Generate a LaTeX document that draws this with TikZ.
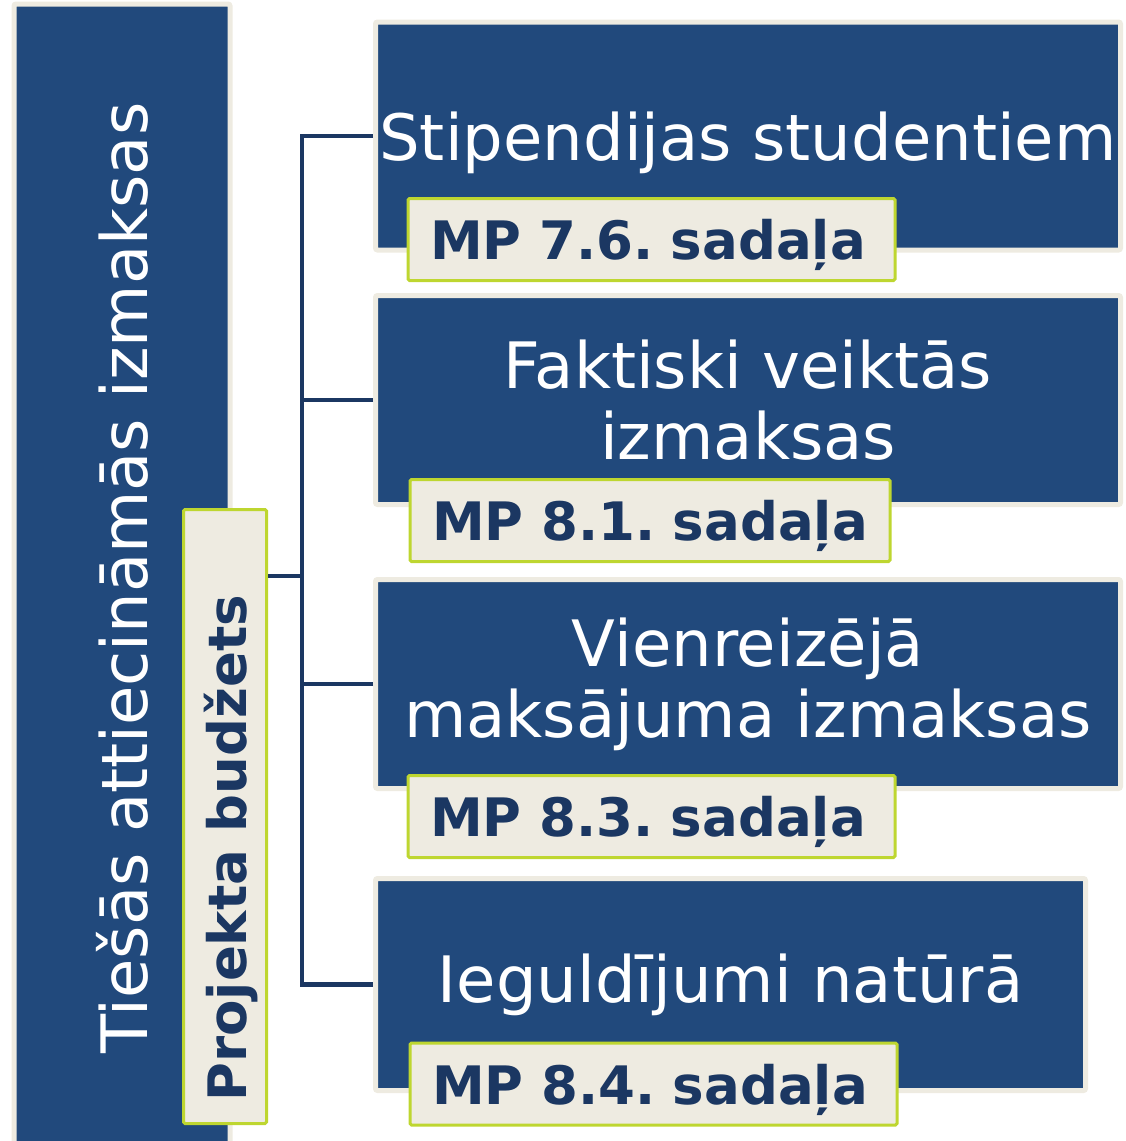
\documentclass[tikz,border=0pt]{standalone}
\usepackage{fontspec}
\setmainfont{DejaVu Sans}
\usetikzlibrary{calc, positioning}
\definecolor{slideblue}{RGB}{33,73,124}
\definecolor{inkblue}{RGB}{27,55,98}
\definecolor{cream}{RGB}{238,235,225}
\definecolor{tagGreen}{RGB}{190,214,48}
\newcommand{\costfont}{\fontsize{64}{71}\selectfont}
\newcommand{\tagfont}{\fontsize{53}{60}\selectfont\bfseries}
\tikzstyle{cost}=[draw=cream, fill=slideblue, line width=5pt, rounded corners=2pt, inner sep=0pt, text=white, align=center, font=\costfont]
\tikzstyle{tag}=[draw=tagGreen, fill=cream, line width=3pt, rounded corners=1.5pt, inner xsep=22pt, inner ysep=0pt, text width=443pt, align=left, text depth=0pt, minimum height=82pt, text=inkblue, font=\tagfont, anchor=west]
\tikzstyle{link}=[draw=inkblue, line width=4.5pt]

\begin{document}
\begin{tikzpicture}[x=1pt, y=-1pt]
      \useasboundingbox (0,0) rectangle (1125,1141);

      \node [cost, rotate=90, minimum width=1148pt, minimum height=216pt] (direct) at (122,578) {Tiešās attiecināmās izmaksas};
      \node [tag, anchor=center, rotate=90, minimum height=83pt, text width=570pt] (budget) at (225,816.5) {Projekta~budžets};

      \node [cost, minimum width=745pt, minimum height=228pt, text depth=0pt] (stip) at (748,136) {Stipendijas studentiem};
      \node [cost, minimum width=745pt, minimum height=209pt] (fakt) [below of=stip, node distance=264pt] {Faktiski veiktās\\izmaksas};
      \node [cost, minimum width=745pt, minimum height=209pt] (vien) [below of=fakt, node distance=284pt] {Vienreizējā\\maksājuma izmaksas};
      \node [cost, minimum width=710pt, minimum height=212pt] (natura) [below of=vien, node distance=300.5pt, xshift=-17.5pt] {Ieguldījumi natūrā};

      \node [tag] (mp76) at (406.5,239.5) {MP~7.6.~sadaļa};
      \node [tag, text width=436pt] (mp81) at (408.5,520.5) {MP~8.1.~sadaļa};
      \node [tag] (mp83) at (406.5,816.5) {MP~8.3.~sadaļa};
      \node [tag] (mp84) at (408.5,1084) {MP~8.4.~sadaļa};

      \node (trunk) [coordinate] at (302,576) {};

      \draw [link] (stip.west) -| (trunk) |- (natura.west);
      \draw [link] (fakt.west) -- (fakt.west -| trunk);
      \draw [link] (vien.west) -- (vien.west -| trunk);
      \draw [link] (budget.south |- trunk) -- (trunk);
  \end{tikzpicture}
\end{document}
